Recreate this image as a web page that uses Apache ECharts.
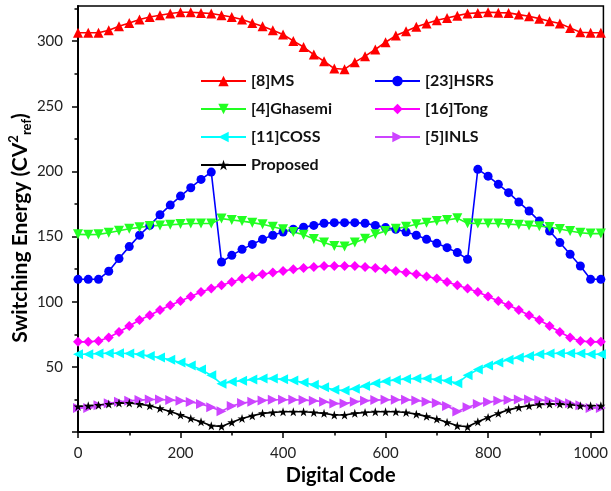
<!DOCTYPE html>
<html>
<head>
<meta charset="utf-8">
<script src="https://cdn.jsdelivr.net/npm/echarts@6/dist/echarts.min.js"></script>
<style>
  html, body { margin: 0; padding: 0; background: #fff; }
  #chart { width: 611px; height: 491px; }
</style>
</head>
<body>
<div id="chart"></div>
<script>
// Digital input codes (sampled every 20 codes)
const codes = [0, 20, 40, 60, 80, 100, 120, 140, 160, 180, 200, 220, 240, 260, 280, 300, 320, 340, 360, 380,
  400, 420, 440, 460, 480, 500, 520, 540, 560, 580, 600, 620, 640, 660, 680, 700, 720, 740, 760, 780,
  800, 820, 840, 860, 880, 900, 920, 940, 960, 980, 1000, 1020];

// Switching energy of each scheme, in units of C*Vref^2
const msEnergy = [306.5, 306.5, 306.5, 308.4, 311.4, 314, 316.6, 318.6, 319.9, 321.2, 322.2, 322.2, 321.7, 321.2,
  319.9, 318.6, 316.6, 314, 311.4, 308.4, 305.1, 300.2, 295.5, 289.7, 284.6, 279, 278.5, 283.9, 288.5, 293.6,
  299.2, 304.3, 307.6, 311, 313.5, 316, 317.8, 319.6, 321.2, 321.7, 322.2, 321.9, 321.7, 320.4, 319.1, 317.3,
  315.3, 313.5, 310.2, 306.9, 306.5, 306.5];
const hsrsEnergy = [117.2, 117.2, 117.2, 123.4, 133.1, 142.3, 151, 158.6, 166.8, 174.2, 181.1, 187.5, 193.9, 199.5,
  130.5, 135.6, 140.2, 144, 147.9, 151, 153.5, 155.6, 157.2, 158.6, 160.2, 160.7, 160.7, 160.7, 160.2, 158.6,
  156.9, 155.6, 153.5, 151, 147.9, 144.8, 141.5, 137.7, 132.6, 201.6, 196.4, 190.1, 183.7, 176.5, 169.6, 161.9,
  154.3, 145.4, 136.4, 127.4, 117.2, 117.2];
const ghasemiEnergy = [151.7, 151.5, 151.7, 153, 154.5, 156, 157.1, 158.1, 158.6, 159.1, 159.6, 160, 160, 160,
  163.8, 162.7, 161.9, 160.7, 159.4, 157.6, 155.6, 153.5, 151.5, 148.1, 145.4, 142.8, 142.3, 145.4, 148.4, 151.7,
  154.3, 156.1, 157.6, 159.4, 160.7, 161.9, 162.7, 164, 160.3, 160, 160, 160, 159.6, 159.1, 158.6, 158,
  157.3, 155.8, 154.3, 153, 152.3, 152.3];
const tongEnergy = [69.2, 69.2, 69.9, 72.5, 76.8, 81.4, 86, 89.6, 93.7, 97.3, 100.6, 104, 107.5, 110.1,
  112.6, 115.2, 117.8, 119.3, 121.1, 122.4, 123.6, 124.9, 125.9, 126.7, 127.4, 127.4, 127.4, 127.4, 126.7, 125.9,
  124.9, 123.6, 122.4, 121.1, 119.3, 117.8, 115.2, 112.6, 110.1, 107.5, 104, 100.6, 97.3, 93.7, 89.6, 86,
  81.4, 76.8, 72.5, 69.9, 69.2, 69.2];
const cossEnergy = [59.7, 59.7, 60.2, 60.5, 60.5, 60.2, 59.7, 58.4, 57.2, 55.4, 53.4, 51, 48, 43.5,
  37, 38.5, 39.3, 40.3, 41, 41, 40.5, 39.5, 38, 36.3, 34.4, 32.4, 31.8, 33.2, 35.4, 37.5,
  39, 40, 40.7, 41, 41, 40.3, 39.3, 37.5, 43.5, 48, 51, 53.4, 55.4, 57.2, 58.4, 59.7,
  60.2, 60.5, 60.5, 60.2, 59.7, 59.7];
const inlsEnergy = [18.5, 18.5, 20.5, 22, 23.2, 24, 24.5, 25, 25, 24.5, 24, 23, 21.5, 19,
  16, 20, 22.2, 23.2, 24.2, 24.7, 24.7, 24.7, 24.5, 24, 23.2, 21.8, 21.8, 23.2, 24, 24.5,
  24.7, 24.7, 24.7, 24.2, 23.2, 22.2, 20, 15.7, 19, 21.5, 23, 24, 24.5, 25, 25, 24.5,
  24, 23.2, 22, 20.5, 18.5, 18.5];
const proposedEnergy = [19.6, 20.1, 20.6, 21.4, 22.2, 22.2, 21.4, 20.1, 18.1, 15.8, 13, 10.4, 7.8, 4.8,
  4.3, 7.4, 10.4, 12.4, 14.3, 15, 15.5, 15.5, 15.5, 15, 14.3, 13, 13, 14.3, 15, 15.5,
  15.5, 15.5, 15, 13.7, 12, 9.9, 7.4, 4.8, 4, 7.8, 11.2, 14.3, 17, 18.9, 20.1, 21.2,
  21.4, 21.4, 20.9, 20.1, 20.1, 20.1];

// Axis ticks
const xMajorTicks = [0, 200, 400, 600, 800, 1000];
const xMinorTicks = [100, 300, 500, 700, 900];
const yMajorTicks = [0, 50, 100, 150, 200, 250, 300];
const yTickLabels = [50, 100, 150, 200, 250, 300];
const yMinorTicks = [25, 75, 125, 175, 225, 275, 325];

const X_MAX = 1025;
const Y_MAX = 327;

const SYM = {
  down: 'path://M0,0 L100,0 L50,100 Z',
  left: 'path://M0,50 L100,0 L100,100 Z',
  right: 'path://M100,50 L0,0 L0,100 Z',
  star: 'path://M50,0 L61.8,35.5 L99,35.5 L68.9,57.4 L80.4,92.9 L50,71 L19.6,92.9 L31.1,57.4 L1,35.5 L38.2,35.5 Z'
};

function lineSeries(name, values, color, symbol, size) {
  return {
    name: name,
    type: 'line',
    data: codes.map((c, i) => [c, values[i]]),
    symbol: symbol,
    symbolSize: size,
    showSymbol: true,
    lineStyle: { color: color, width: 1.6 },
    itemStyle: { color: color },
    emphasis: { disabled: true }
  };
}

const series = [
  lineSeries('[8]MS', msEnergy, '#FF0000', 'triangle', 10),
  lineSeries('[23]HSRS', hsrsEnergy, '#0000FF', 'circle', 9),
  lineSeries('[4]Ghasemi', ghasemiEnergy, '#22FF22', SYM.down, 10),
  lineSeries('[16]Tong', tongEnergy, '#FF00FF', 'diamond', 10),
  lineSeries('[11]COSS', cossEnergy, '#00FFFF', SYM.left, 10),
  lineSeries('[5]INLS', inlsEnergy, '#CC44FF', SYM.right, 10),
  lineSeries('Proposed', proposedEnergy, '#000000', SYM.star, 9)
];

const plainNumber = v => String(v);
const tickFont = { fontFamily: 'Lato', fontSize: 15, color: '#222' };
const legendText = { fontFamily: 'Lato', fontSize: 16, fontWeight: 'bold', color: '#111', lineHeight: 14 };

const option = {
  animation: false,
  backgroundColor: '#fff',
  grid: { left: 78, right: 6, top: 6, bottom: 59, show: true, borderColor: '#000', borderWidth: 1.5, backgroundColor: 'transparent' },
  legend: [
    {
      data: ['[8]MS', '[4]Ghasemi', '[11]COSS', 'Proposed'],
      orient: 'vertical', left: 195, top: 68,
      itemWidth: 45, itemHeight: 13, itemGap: 12,
      textStyle: legendText, selectedMode: false
    },
    {
      data: ['[23]HSRS', '[16]Tong', '[5]INLS'],
      orient: 'vertical', left: 369, top: 68,
      itemWidth: 45, itemHeight: 13, itemGap: 12,
      textStyle: legendText, selectedMode: false
    }
  ],
  xAxis: [
    {
      type: 'value', min: 0, max: X_MAX, position: 'bottom',
      axisLine: { show: true, onZero: false, lineStyle: { color: '#000', width: 2 } },
      axisTick: { show: true, length: 6, customValues: xMajorTicks, lineStyle: { color: '#000', width: 1.5 } },
      axisLabel: Object.assign({ customValues: xMajorTicks, margin: 14, formatter: plainNumber }, tickFont),
      splitLine: { show: false },
      name: 'Digital Code', nameLocation: 'middle', nameGap: 34,
      nameTextStyle: { fontFamily: 'Lato', fontSize: 20, fontWeight: 'bold', color: '#000' }
    },
    {
      type: 'value', min: 0, max: X_MAX, position: 'bottom',
      axisLine: { show: false },
      axisTick: { show: true, length: 3.5, customValues: xMinorTicks, lineStyle: { color: '#000', width: 1.5 } },
      axisLabel: { show: false },
      splitLine: { show: false }
    }
  ],
  yAxis: [
    {
      type: 'value', min: 0, max: Y_MAX, position: 'left',
      axisLine: { show: true, onZero: false, lineStyle: { color: '#000', width: 2 } },
      axisTick: { show: true, length: 6, customValues: yMajorTicks, lineStyle: { color: '#000', width: 1.5 } },
      axisLabel: Object.assign({ customValues: yTickLabels, margin: 15, formatter: plainNumber }, tickFont),
      splitLine: { show: false }
    },
    {
      type: 'value', min: 0, max: Y_MAX, position: 'left',
      axisLine: { show: false },
      axisTick: { show: true, length: 3.5, customValues: yMinorTicks, lineStyle: { color: '#000', width: 1.5 } },
      axisLabel: { show: false },
      splitLine: { show: false }
    }
  ],
  graphic: [
    {
      type: 'text', x: 20, y: 228, rotation: Math.PI / 2,
      style: {
        text: '{m|Switching Energy (CV}{sup|2}{sub|ref}{m|)}',
        align: 'center', verticalAlign: 'middle',
        rich: {
          m: { fontFamily: 'Lato', fontSize: 21, fontWeight: 'bold', fill: '#000', lineHeight: 26 },
          sup: { fontFamily: 'Lato', fontSize: 13, fontWeight: 'bold', fill: '#000', lineHeight: 15, verticalAlign: 'top' },
          sub: { fontFamily: 'Lato', fontSize: 13, fontWeight: 'bold', fill: '#000', lineHeight: 12, verticalAlign: 'bottom' }
        }
      }
    }
  ],
  series: series
};

const chart = echarts.init(document.getElementById('chart'), null, { renderer: 'canvas' });
chart.setOption(option);
</script>
</body>
</html>
